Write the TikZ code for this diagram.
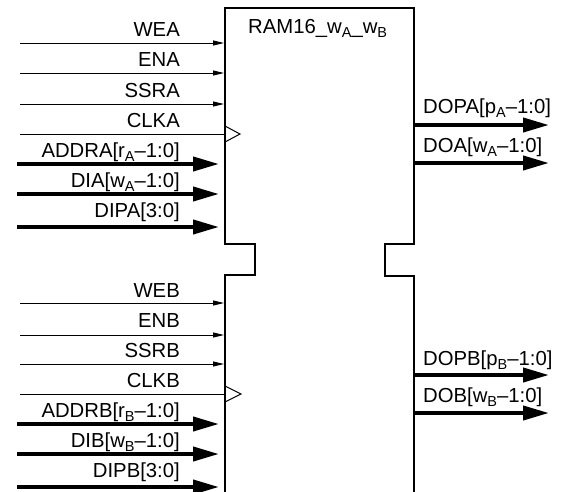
\documentclass[tikz,border=0pt]{standalone}
\usepackage{fontspec}
\setmainfont{Liberation Sans}
\usetikzlibrary{arrows.meta}
\newcommand\mysub[1]{\raisebox{-4.5pt}{\fontsize{14.5}{14.5}\selectfont #1}}
\begin{document}
\begin{tikzpicture}[x=1pt,y=-1pt,
  lbl/.style={anchor=base east,inner sep=0pt,font=\fontsize{20.3}{24}\selectfont},
  olbl/.style={anchor=base west,inner sep=0pt,font=\fontsize{20.3}{24}\selectfont},
  thinarrow/.style={line width=1pt,-{Triangle[length=11pt,width=5pt]}},
  thickarrow/.style={line width=4pt,-{Triangle[length=26pt,width=14pt]}},
  clkline/.style={line width=1pt},
  blockline/.style={line width=2pt,line join=miter}]
\useasboundingbox (0,0) rectangle (562,491);
% block outline
\coordinate (bl0) at (225,495);
\coordinate (br0) at (414,495);
\draw[blockline] (bl0) -- (225,275) -- (255,275) -- (255,244) -- (225,244) -- (225,8)
  -- (414,8) -- (414,244) -- (385,244) -- (385,276) -- (414,276) -- (br0);
\node[anchor=base west,inner sep=0pt,font=\fontsize{20.3}{24}\selectfont] (title) at (248,33) {RAM16\_w\mysub{A}\_w\mysub{B}};
% control inputs
\foreach \nm/\txt/\ly/\by in {wea/WEA/43/36, ena/ENA/73/66, ssra/SSRA/104/97,
  web/WEB/303/297, enb/ENB/335/327, ssrb/SSRB/364/357}{
  \coordinate (\nm-s) at (20,\ly);
  \coordinate (\nm-e) at (224,\ly);
  \draw[thinarrow] (\nm-s) -- (\nm-e);
  \node[lbl] (\nm) at (180,\by) {\txt};
}
% clocks
\coordinate (clka-s) at (20,134); \coordinate (clka-e) at (225,134);
\draw[clkline] (clka-s) -- (clka-e);
\node[lbl] (clka) at (180,127) {CLKA};
\draw[line width=1pt] (225,126) -- (240,134) -- (225,142);
\coordinate (clkb-s) at (20,394); \coordinate (clkb-e) at (225,394);
\draw[clkline] (clkb-s) -- (clkb-e);
\node[lbl] (clkb) at (180,387) {CLKB};
\draw[line width=1pt] (225,386) -- (241,394) -- (225,402);
% bus inputs
\foreach \nm/\txt/\ly/\by in {
  addra/{ADDRA[r\mysub{A}--1:0]}/164/157,
  dia/{DIA[w\mysub{A}--1:0]}/194/187,
  dipa/{DIPA[3:0]}/227/217,
  addrb/{ADDRB[r\mysub{B}--1:0]}/424/417,
  dib/{DIB[w\mysub{B}--1:0]}/454/447,
  dipb/{DIPB[3:0]}/487/477}{
  \coordinate (\nm-s) at (17,\ly);
  \coordinate (\nm-e) at (219,\ly);
  \draw[thickarrow] (\nm-s) -- (\nm-e);
  \node[lbl] (\nm) at (180,\by) {\txt};
}
% bus outputs
\foreach \nm/\txt/\ly/\by in {
  dopa/{DOPA[p\mysub{A}--1:0]}/125/113,
  doa/{DOA[w\mysub{A}--1:0]}/163/152,
  dopb/{DOPB[p\mysub{B}--1:0]}/375/365,
  dob/{DOB[w\mysub{B}--1:0]}/413/402}{
  \coordinate (\nm-s) at (414,\ly);
  \coordinate (\nm-e) at (549,\ly);
  \draw[thickarrow] (\nm-s) -- (\nm-e);
  \node[olbl] (\nm) at (423,\by) {\txt};
}
\end{tikzpicture}
\end{document}
